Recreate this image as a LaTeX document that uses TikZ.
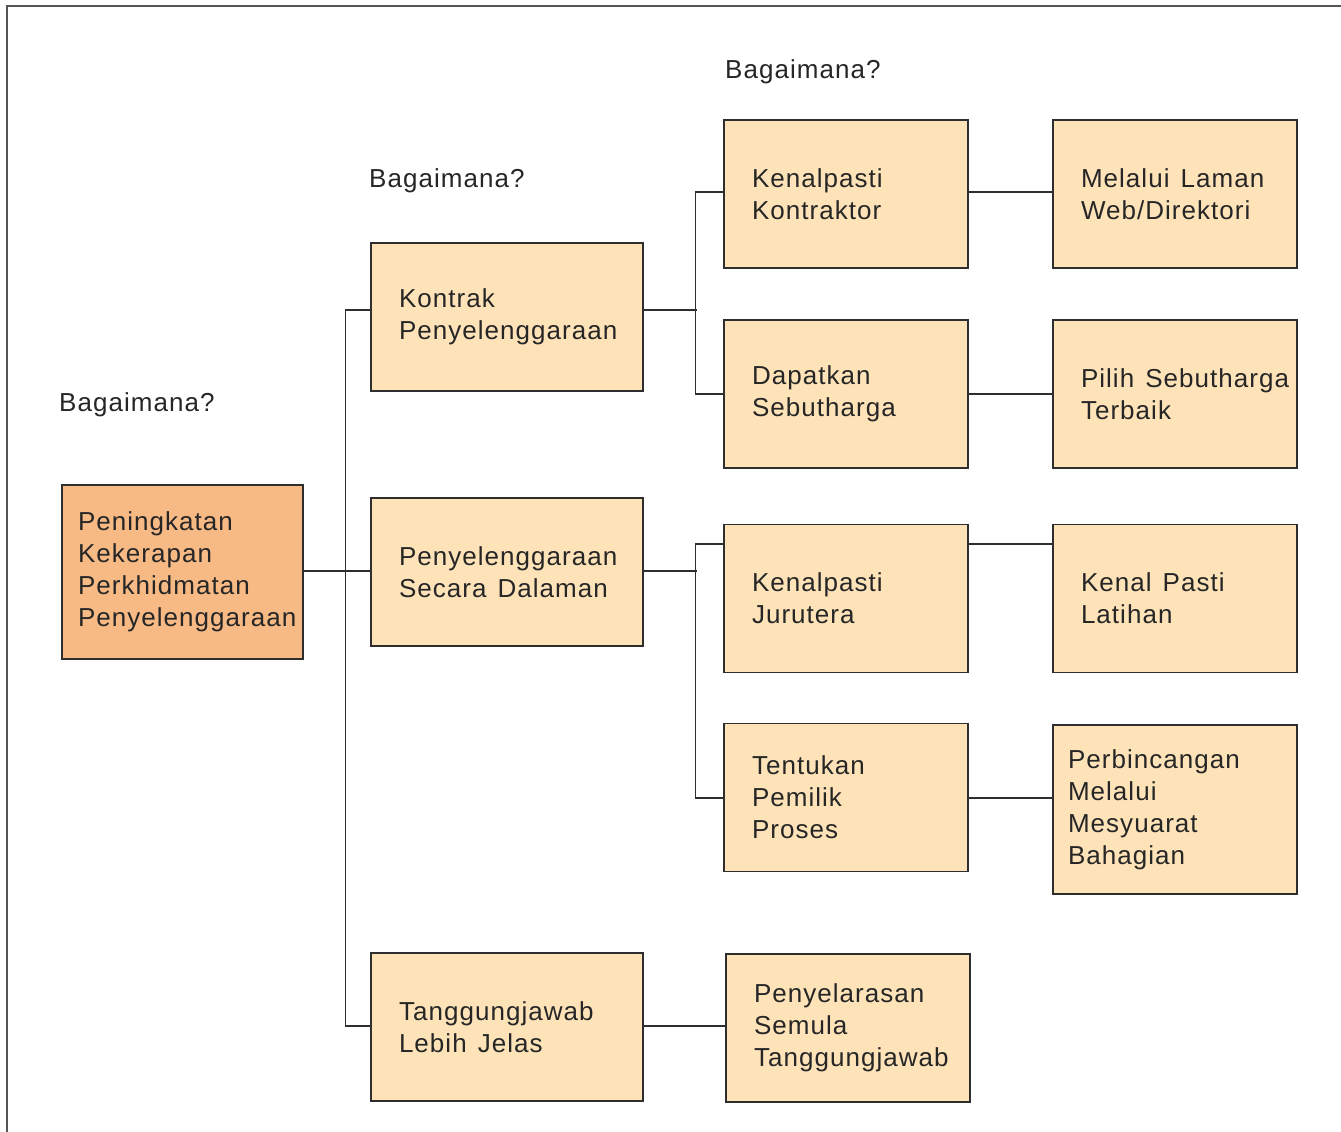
\documentclass[tikz,border=0pt]{standalone}
\usepackage{fontspec}
\setmainfont[LetterSpace=4]{Liberation Sans}
\definecolor{boxc}{HTML}{FEE3B9}
\definecolor{rootc}{HTML}{F7BA85}
\definecolor{linec}{HTML}{2E2E2E}
\definecolor{framec}{HTML}{555555}
\hyphenpenalty=10000
\exhyphenpenalty=10000
\newcommand\ws{\hspace{11pt}}
\begin{document}
\begin{tikzpicture}[x=1pt,y=-1pt,
  txt/.style={font=\fontsize{26}{32}\selectfont, text=black!85},
  bx/.style={txt, draw=linec, fill=boxc, line width=1.1pt, inner xsep=28pt, inner ysep=0pt,
     align=left, text width=188pt, minimum height=148pt},
  wide/.style={text width=216pt},
  lbl/.style={txt, inner sep=0pt, anchor=west},
  conn/.style={draw=linec, line width=1.4pt}]
\useasboundingbox (0,0) rectangle (1341,1132);
\draw[framec, line width=1.2pt] (7,1132) -- (7,6) -- (1341,6);

\node[lbl] (q1) at (59,405) {Bagaimana?};
\node[lbl] (q2) at (369,181) {Bagaimana?};
\node[lbl] (q3) at (725,72) {Bagaimana?};

\node[bx, fill=rootc, inner xsep=16pt, text width=209pt, minimum height=174pt] (root) at (182.5,572)
  {Peningkatan\\Kekerapan\\Perkhidmatan\\Penyelenggaraan};

\node[bx, wide] (kon) at (507,317) {Kontrak\\Penyelenggaraan};
\node[bx, wide] (pen) at (507,572) {Penyelenggaraan\\\mbox{Secara\ws Dalaman}};
\node[bx, wide] (tan) at (507,1027) {Tanggungjawab\\\mbox{Lebih\ws Jelas}};

\node[bx] (kk) at (846,194) {Kenalpasti\\Kontraktor};
\node[bx] (dap) at (846,394) {Dapatkan\\Sebutharga};
\node[bx] (jur) at (846,598.5) {Kenalpasti\\Jurutera};
\node[bx] (ten) at (846,797.5) {Tentukan\\Pemilik\\Proses};
\node[bx] (psm) at (848,1028) {Penyelarasan\\Semula\\Tanggungjawab};

\node[bx] (mel) at (1175,194) {\mbox{Melalui\ws Laman}\\Web/Direktori};
\node[bx] (pil) at (1175,394) {\mbox{Pilih\ws Sebutharga}\\Terbaik};
\node[bx] (kpl) at (1175,598.5) {\mbox{Kenal\ws Pasti}\\Latihan};
\node[bx, inner xsep=15pt, text width=214pt, minimum height=169pt] (per) at (1175,809.5)
  {Perbincangan\\Melalui\\Mesyuarat\\Bahagian};

% level 1
\draw[conn] ([yshift=1pt]root.east) -- ([yshift=1pt]root.east -| pen.west);
\draw[conn] ([yshift=7pt]kon.west) -- ++(-25,0) |- ([yshift=1pt]tan.west);
% kontrak branch
\draw[conn] ([yshift=7pt]kon.east) -- ++(53,0);
\draw[conn] ([yshift=2pt]kk.west) -- ++(-28,0) |- (dap.west);
% dalaman branch
\draw[conn] ([yshift=1pt]pen.east) -- ++(53,0);
\draw[conn] ([yshift=54.5pt]jur.west) -- ++(-28,0) |- ([yshift=-0.5pt]ten.west);
% level 3 -> 4
\draw[conn] ([yshift=2pt]kk.east) -- ([yshift=2pt]kk.east -| mel.west);
\draw[conn] (dap.east) -- (pil.west);
\draw[conn] ([yshift=54.5pt]jur.east) -- ([yshift=54.5pt]jur.east -| kpl.west);
\draw[conn] ([yshift=-0.5pt]ten.east) -- ([yshift=-0.5pt]ten.east -| per.west);
\draw[conn] ([yshift=1pt]tan.east) -- ([yshift=1pt]tan.east -| psm.west);
\end{tikzpicture}
\end{document}
